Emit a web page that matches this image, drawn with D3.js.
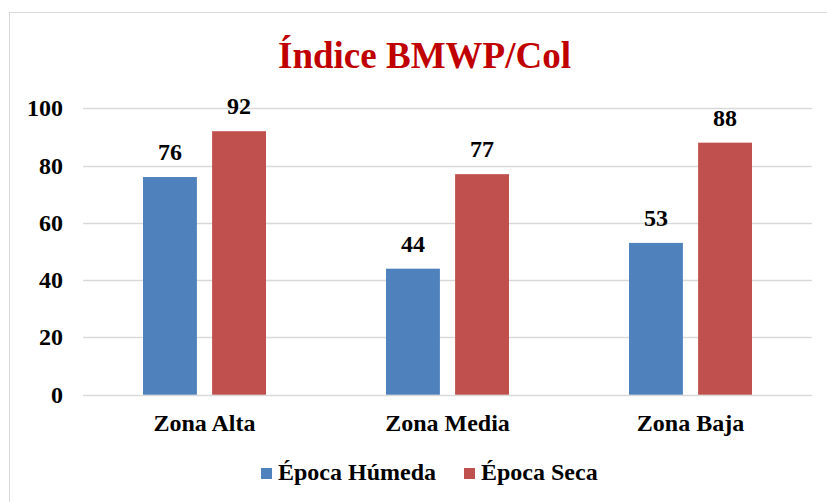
<!DOCTYPE html>
<html>
<head>
<meta charset="utf-8">
<script src="https://cdn.jsdelivr.net/npm/d3@7"></script>
<style>
  body { margin: 0; background: #fff; }
  svg { display: block; }
</style>
</head>
<body>
<div id="chart"></div>
<script>
// data
var zonas = ["Zona Alta", "Zona Media", "Zona Baja"];
var series = ["Época Húmeda", "Época Seca"];
var humeda = [76, 44, 53];
var seca = [92, 77, 88];
var yTicks = [0, 20, 40, 60, 80, 100];
var colores = ["#4F81BD", "#C0504D"];

var W = 827, H = 502;
var svg = d3.select("#chart").append("svg")
  .attr("width", W)
  .attr("height", H)
  .attr("font-family", "Liberation Serif")
  .attr("font-weight", "bold");

// outer frame
svg.append("rect")
  .attr("x", 9.5).attr("y", 12.5)
  .attr("width", W).attr("height", H)
  .style("fill", "white")
  .style("stroke", "#D9D9D9");

var plot = { left: 83, right: 812, top: 108.3, bottom: 394.7 };

var y = d3.scaleLinear().domain([0, 100]).range([plot.bottom, plot.top]);
var x0 = d3.scaleBand().domain(zonas).range([plot.left, plot.right]);
var x1 = d3.scaleBand().domain(series).range([-61.5, 61.5]).paddingInner(0.22);

// gridlines
svg.append("g").selectAll("line")
  .data(yTicks)
  .enter().append("line")
  .attr("x1", plot.left).attr("x2", plot.right)
  .attr("y1", function(d){ return Math.round(y(d)) + 0.5; })
  .attr("y2", function(d){ return Math.round(y(d)) + 0.5; })
  .style("stroke", "#D9D9D9")
  .style("stroke-width", 1.5);

// y labels
svg.append("g").selectAll("text")
  .data(yTicks)
  .enter().append("text")
  .attr("x", 63)
  .attr("y", function(d){ return y(d) + 8; })
  .attr("text-anchor", "end")
  .attr("font-size", 24)
  .text(function(d){ return d; });

var rows = zonas.map(function(z, i){
  return { zona: z, vals: [humeda[i], seca[i]] };
});

var grupos = svg.append("g").selectAll("g")
  .data(rows)
  .enter().append("g")
  .attr("transform", function(d){ return "translate(" + (x0(d.zona) + x0.bandwidth() / 2) + ",0)"; });

grupos.selectAll("rect")
  .data(function(d){ return d.vals.map(function(v, j){ return { s: series[j], v: v, j: j }; }); })
  .enter().append("rect")
  .attr("x", function(d){ return x1(d.s); })
  .attr("width", x1.bandwidth())
  .attr("y", function(d){ return y(d.v); })
  .attr("height", function(d){ return y(0) - y(d.v); })
  .style("fill", function(d){ return colores[d.j]; });

grupos.selectAll("text")
  .data(function(d){ return d.vals.map(function(v, j){ return { s: series[j], v: v }; }); })
  .enter().append("text")
  .attr("x", function(d){ return x1(d.s) + x1.bandwidth() / 2; })
  .attr("y", function(d){ return y(d.v) - 17; })
  .attr("text-anchor", "middle")
  .attr("font-size", 24)
  .text(function(d){ return d.v; });

// category labels
svg.append("g").selectAll("text")
  .data(zonas)
  .enter().append("text")
  .attr("x", function(d){ return x0(d) + x0.bandwidth() / 2; })
  .attr("y", 431)
  .attr("text-anchor", "middle")
  .attr("font-size", 24)
  .text(function(d){ return d; });

// title
svg.append("text")
  .attr("x", 424.5)
  .attr("y", 68)
  .attr("text-anchor", "middle")
  .attr("font-size", 37)
  .attr("fill", "#C00000")
  .text("Índice BMWP/Col");

// legend
var legX = [261, 464];
var leg = svg.append("g").selectAll("g")
  .data(series)
  .enter().append("g")
  .attr("transform", function(d, i){ return "translate(" + legX[i] + ",468)"; });
leg.append("rect")
  .attr("width", 11).attr("height", 11)
  .style("fill", function(d, i){ return colores[i]; });
leg.append("text")
  .attr("x", 17).attr("y", 12)
  .attr("font-size", 24)
  .text(function(d){ return d; });
</script>
</body>
</html>
